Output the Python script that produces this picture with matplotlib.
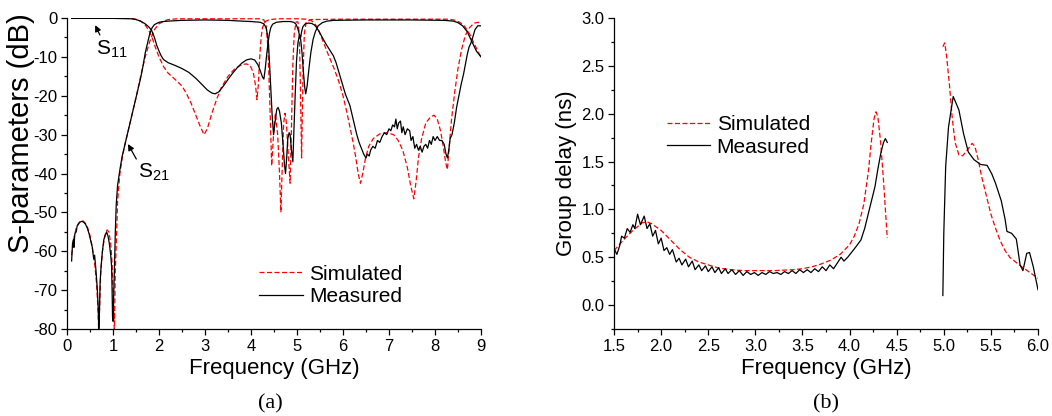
import numpy as np
import matplotlib
matplotlib.use("Agg")
import matplotlib.pyplot as plt
from matplotlib.ticker import MultipleLocator, FormatStrFormatter

plt.rcParams['font.family'] = ['Liberation Sans', 'DejaVu Sans']
plt.rcParams['mathtext.fontset'] = 'custom'
plt.rcParams['mathtext.rm'] = 'Liberation Sans'
plt.rcParams['mathtext.it'] = 'Liberation Sans:italic'
plt.rcParams['axes.unicode_minus'] = False

# ---------------- (a) S-parameters ----------------
# simulated S11 (red dashed)
sim_s11_f = [0.1, 1.4, 1.5, 1.6, 1.7, 1.78, 1.85, 1.92, 2.0, 2.1, 2.2, 2.35, 2.5, 2.6, 2.7, 2.8,
             2.9, 2.98, 3.05, 3.15, 3.25, 3.35, 3.5, 3.65, 3.8, 3.9, 3.98, 4.05, 4.1, 4.13, 4.16,
             4.19, 4.22, 4.25, 4.3, 4.4, 4.6, 5.0, 5.2, 5.3, 5.37, 5.45, 5.5, 5.6, 5.7, 5.79, 5.9,
             6.0, 6.08, 6.15, 6.22, 6.28, 6.33, 6.38, 6.43, 6.49, 6.56, 6.66, 6.8, 6.95, 7.1, 7.2,
             7.3, 7.4, 7.47, 7.54, 7.59, 7.64, 7.71, 7.8, 7.9, 7.98, 8.05, 8.12, 8.18, 8.23, 8.27,
             8.31, 8.36, 8.43, 8.5, 8.58, 8.66, 8.75, 8.85, 9.0]
sim_s11_db = [0, -0.1, -0.3, -0.8, -1.8, -3.2, -5, -7.5, -10, -12.5, -14.2, -15.8, -17.5, -19.5,
              -22, -25, -28, -30, -28.5, -24.5, -21, -18, -15, -13, -12, -11.8, -12.2, -14, -17.5,
              -21, -17, -10, -5, -2.5, -1, -0.4, -0.2, -0.2, -0.3, -0.6, -1.2, -2.5, -4, -7, -10,
              -12.5, -16, -20, -24, -28, -32, -36, -40, -42.5, -40, -36, -33, -31, -29.8, -29.5,
              -30, -31.5, -34, -38.5, -43, -46.5, -42, -36, -31, -27, -25.5, -25, -26, -29, -33,
              -37, -39, -33, -26, -19, -13, -8, -4.5, -2.5, -1.3, -1]

# simulated S21 (red dashed)
sim_s21_f = [0.1, 0.15, 0.2, 0.25, 0.3, 0.35, 0.4, 0.45, 0.5, 0.55, 0.6, 0.64, 0.67, 0.69, 0.71,
             0.73, 0.77, 0.82, 0.87, 0.91, 0.95, 0.98, 1.0, 1.03, 1.05, 1.08, 1.1, 1.15, 1.2, 1.25,
             1.3, 1.4, 1.5, 1.6, 1.7, 1.8, 1.9, 2.0, 2.1, 2.2, 2.4, 4.2, 4.28, 4.33, 4.37, 4.41,
             4.45, 4.49, 4.53, 4.58, 4.62, 4.65, 4.68, 4.71, 4.74, 4.77, 4.81, 4.85, 4.88, 4.91,
             4.94, 4.98, 5.02, 5.05, 5.07, 5.1, 5.13, 5.16, 5.2, 5.3, 6.0, 8.3, 8.45, 8.55, 8.65,
             8.75, 8.85, 8.95, 9.0]
sim_s21_db = [-61, -56.5, -54, -52.8, -52.2, -52.2, -52.8, -54, -56, -59, -63, -68, -74, -81, -74,
              -66, -60, -56, -54.5, -55, -58, -63, -70, -81, -65, -55, -47, -40, -36, -33, -30.5,
              -25.5, -20.5, -15, -10, -6, -3, -1.5, -0.8, -0.4, -0.2, -0.2, -0.5, -2, -8, -22, -38,
              -30, -24.5, -30, -40, -50, -38, -27, -24.5, -27, -35, -42.5, -28, -12, -4, -1, -1,
              -4, -15, -36, -15, -4, -1, -0.4, -0.3, -0.3, -0.6, -1.2, -2.2, -4, -6.5, -9, -10]

# measured S11 (black)
meas_s11_f = [0.1, 1.0, 1.4, 1.5, 1.6, 1.7, 1.78, 1.84, 1.9, 1.95, 2.0, 2.05, 2.1, 2.2, 2.35, 2.5,
              2.65, 2.8, 2.95, 3.05, 3.15, 3.22, 3.3, 3.4, 3.5, 3.6, 3.7, 3.8, 3.9, 4.0, 4.08, 4.15,
              4.2, 4.25, 4.28, 4.31, 4.34, 4.37, 4.4, 4.43, 4.47, 4.55, 4.7, 4.85, 4.93, 4.98, 5.02,
              5.05, 5.08, 5.1, 5.13, 5.18, 5.25, 5.32, 5.38, 5.43, 5.48, 5.55, 5.62, 5.7, 5.79,
              5.85, 5.9, 5.95, 6.0, 6.05, 6.1, 6.15, 6.2, 6.25, 6.3, 6.35, 6.4, 6.45, 6.5, 6.53,
              6.57, 6.6, 6.65, 6.7, 6.75, 6.8, 6.85, 6.9, 6.95, 7.0, 7.04, 7.08, 7.12, 7.15, 7.18,
              7.21, 7.25, 7.28, 7.31, 7.35, 7.4, 7.45, 7.48, 7.52, 7.56, 7.6, 7.64, 7.68, 7.72,
              7.76, 7.8, 7.84, 7.88, 7.92, 7.96, 8.0, 8.05, 8.1, 8.15, 8.2, 8.24, 8.27, 8.3, 8.33,
              8.37, 8.42, 8.47, 8.52, 8.57, 8.62, 8.66, 8.7, 8.74, 8.78, 8.82, 8.87, 8.93, 9.0]
meas_s11_db = [-0.1, -0.1, -0.2, -0.4, -0.8, -1.5, -2.3, -3.2, -5, -7, -8.5, -9.8, -10.7, -11.5,
               -12.2, -13, -14, -15.5, -17.3, -18.5, -19.3, -19.5, -19, -17.5, -15.8, -14.2, -12.8,
               -11.6, -10.8, -10.5, -10.8, -12, -13.5, -15.2, -15.7, -13, -9.5, -6.5, -4, -2.5,
               -1.6, -1.1, -0.9, -0.9, -1.1, -1.6, -2.8, -4.2, -5, -3.5, -2.2, -1.5, -1.3, -1.4,
               -1.8, -2.5, -3.5, -5, -6.5, -8, -9.7, -11.5, -13.5, -15.5, -17.5, -19.5, -21,
               -22.5, -25, -27.5, -30, -32, -33.5, -35, -36, -35, -35.5, -34, -33, -33.5, -31.5,
               -32, -30.5, -29.5, -30, -28.5, -29, -27.5, -28, -26, -28.5, -27, -26.5, -29.5, -28,
               -30, -28.5, -29, -31.5, -30.5, -33.5, -32.5, -34, -33, -34.5, -33, -32.5, -33.5,
               -31.5, -32.5, -30.5, -31.5, -30.5, -31.5, -31.5, -32.5, -35, -36, -34, -31, -30,
               -27, -23, -20, -17, -14.5, -12, -9.5, -7.5, -6.5, -5, -3, -2, -2]

# measured S21 (black)
meas_s21_f = [0.1, 0.12, 0.14, 0.15, 0.17, 0.2, 0.22, 0.25, 0.28, 0.32, 0.36, 0.4, 0.44, 0.48,
              0.52, 0.55, 0.58, 0.6, 0.63, 0.66, 0.68, 0.69, 0.7, 0.72, 0.74, 0.77, 0.8, 0.83,
              0.86, 0.89, 0.92, 0.95, 0.97, 0.98, 0.99, 1.0, 1.03, 1.05, 1.07, 1.1, 1.15, 1.2,
              1.25, 1.3, 1.35, 1.4, 1.45, 1.5, 1.55, 1.6, 1.65, 1.7, 1.75, 1.8, 1.85, 1.9, 2.0,
              2.1, 2.2, 2.5, 3.0, 3.5, 3.8, 4.0, 4.2, 4.28, 4.33, 4.36, 4.38, 4.4, 4.43, 4.46,
              4.49, 4.52, 4.56, 4.59, 4.62, 4.66, 4.7, 4.73, 4.75, 4.77, 4.8, 4.83, 4.85, 4.88,
              4.91, 4.93, 4.96, 4.99, 5.02, 5.05, 5.08, 5.11, 5.14, 5.17, 5.19, 5.22, 5.26, 5.3,
              5.35, 5.4, 5.46, 5.55, 5.65, 5.8, 6.5, 7.5, 8.2, 8.4, 8.5, 8.6, 8.7, 8.8, 8.9, 9.0]
meas_s21_db = [-62.5, -58, -57, -59, -55.5, -55, -53.5, -53, -52.5, -52.3, -52.5, -53, -54, -55.5,
               -57.5, -59, -62, -61, -65, -70, -75, -80, -78, -68, -64, -60, -57, -56, -55, -56,
               -58, -61, -64, -70, -77, -78, -65, -55, -48, -43, -39, -35.5, -33, -30.5, -28,
               -25.5, -23, -20.5, -18, -15.5, -12.5, -9, -6.5, -4, -2.5, -1.7, -1.1, -0.9, -0.8,
               -0.6, -0.5, -0.6, -0.8, -0.9, -1.1, -1.5, -2.5, -4.5, -6.5, -11, -18, -25, -30,
               -27, -23.5, -23, -24, -27, -33, -38, -40, -37, -31, -29.5, -30, -34, -37, -30, -20,
               -11, -6.5, -4.5, -5.5, -9, -14, -18, -19.5, -17.5, -13, -9, -5.5, -3.5, -2, -1.2,
               -0.8, -0.6, -0.5, -0.5, -0.6, -0.8, -1.2, -2, -3.5, -6, -8.5, -10]

# ---------------- (b) group delay ----------------
gd_sim1_f = [1.5, 1.6, 1.7, 1.8, 1.85, 1.9, 2.0, 2.1, 2.2, 2.3, 2.4, 2.5, 2.6, 2.7, 2.8, 2.9, 3.0,
             3.2, 3.4, 3.5, 3.6, 3.7, 3.8, 3.9, 4.0, 4.05, 4.1, 4.15, 4.2, 4.23, 4.26, 4.28, 4.3,
             4.33, 4.36, 4.38, 4.4]
gd_sim1_ns = [0.57, 0.68, 0.78, 0.86, 0.87, 0.85, 0.78, 0.68, 0.58, 0.50, 0.45, 0.42, 0.39, 0.375,
              0.365, 0.36, 0.36, 0.36, 0.37, 0.38, 0.40, 0.43, 0.47, 0.53, 0.63, 0.72, 0.85, 1.05,
              1.40, 1.70, 1.95, 2.02, 1.97, 1.70, 1.30, 1.00, 0.70]
gd_sim2_f = [4.99, 5.01, 5.03, 5.06, 5.09, 5.12, 5.16, 5.2, 5.25, 5.3, 5.33, 5.37, 5.4, 5.45, 5.5,
             5.55, 5.6, 5.65, 5.7, 5.8, 5.9, 6.0]
gd_sim2_ns = [2.70, 2.74, 2.60, 2.30, 1.95, 1.70, 1.57, 1.56, 1.62, 1.69, 1.66, 1.50, 1.35, 1.15,
              0.95, 0.80, 0.67, 0.57, 0.50, 0.42, 0.35, 0.28]

gd_meas1_f = [1.50, 1.53, 1.56, 1.58, 1.61, 1.64, 1.67, 1.70, 1.72, 1.75, 1.78, 1.82, 1.85, 1.88,
              1.91, 1.94, 1.97, 2.00, 2.03, 2.06, 2.09, 2.12, 2.16, 2.19, 2.22, 2.26, 2.29, 2.33,
              2.36, 2.40, 2.43, 2.47, 2.50, 2.54, 2.57, 2.61, 2.64, 2.68, 2.71, 2.75, 2.79, 2.83,
              2.87, 2.91, 2.95, 2.99, 3.03, 3.07, 3.11, 3.15, 3.19, 3.23, 3.27, 3.31, 3.35, 3.39,
              3.43, 3.47, 3.51, 3.55, 3.59, 3.63, 3.67, 3.71, 3.75, 3.79, 3.83, 3.87, 3.91, 3.94,
              3.98, 4.02, 4.06, 4.09, 4.12, 4.16, 4.20, 4.24, 4.27, 4.30, 4.33, 4.36, 4.38, 4.40]
gd_meas1_ns = [0.59, 0.53, 0.62, 0.72, 0.70, 0.80, 0.76, 0.84, 0.80, 0.95, 0.84, 0.93, 0.80, 0.85,
               0.72, 0.78, 0.64, 0.70, 0.57, 0.60, 0.53, 0.58, 0.45, 0.49, 0.42, 0.48, 0.40, 0.46,
               0.37, 0.42, 0.36, 0.41, 0.35, 0.40, 0.34, 0.39, 0.33, 0.38, 0.33, 0.37, 0.32, 0.36,
               0.31, 0.35, 0.32, 0.34, 0.31, 0.34, 0.32, 0.35, 0.33, 0.34, 0.32, 0.35, 0.33, 0.36,
               0.33, 0.37, 0.34, 0.37, 0.34, 0.38, 0.35, 0.40, 0.36, 0.42, 0.38, 0.44, 0.50, 0.46,
               0.50, 0.55, 0.60, 0.64, 0.68, 0.80, 0.96, 1.12, 1.24, 1.42, 1.58, 1.70, 1.74, 1.70]
gd_meas2_f = [4.99, 5.0, 5.02, 5.05, 5.1, 5.16, 5.21, 5.26, 5.32, 5.39, 5.46, 5.51, 5.55, 5.61,
              5.65, 5.67, 5.72, 5.77, 5.81, 5.84, 5.88, 5.91, 5.95, 6.0]
gd_meas2_ns = [0.10, 0.75, 1.45, 1.86, 2.18, 2.04, 1.79, 1.60, 1.52, 1.47, 1.46, 1.37, 1.27, 1.09,
               0.90, 0.77, 0.75, 0.69, 0.42, 0.36, 0.54, 0.55, 0.40, 0.16]

RED = '#ff0000'
DASH = (0, (4, 2))
LW = 0.9

fig = plt.figure(figsize=(10.52, 4.16), dpi=100)
ax1 = fig.add_axes([0.0637, 0.2091, 0.3935, 0.7476])
ax2 = fig.add_axes([0.5837, 0.2091, 0.4030, 0.7476])

for ax in (ax1, ax2):
    for s in ('top', 'right'):
        ax.spines[s].set_visible(False)
    for s in ('left', 'bottom'):
        ax.spines[s].set_linewidth(0.9)
    ax.tick_params(which='major', direction='out', length=4, width=0.9, labelsize=12, pad=3)
    ax.tick_params(which='minor', direction='out', length=2.5, width=0.9)

# (a)
sim_line, = ax1.plot(sim_s11_f, sim_s11_db, color=RED, ls=DASH, lw=LW)
ax1.plot(sim_s21_f, sim_s21_db, color=RED, ls=DASH, lw=LW)
meas_line, = ax1.plot(meas_s11_f, meas_s11_db, color='k', lw=LW)
ax1.plot(meas_s21_f, meas_s21_db, color='k', lw=LW)
ax1.set_xlim(0, 9)
ax1.set_ylim(-80, 0)
ax1.xaxis.set_major_locator(MultipleLocator(1))
ax1.xaxis.set_minor_locator(MultipleLocator(0.5))
ax1.yaxis.set_major_locator(MultipleLocator(10))
ax1.yaxis.set_minor_locator(MultipleLocator(5))
ax1.set_xlabel('Frequency (GHz)', fontsize=16, labelpad=3)
ax1.set_ylabel('S-parameters (dB)', fontsize=21)
ax1.yaxis.set_label_coords(-0.078, 0.63)

ax1.annotate('', xy=(0.587, -1.2), xytext=(0.74, -5.0),
             arrowprops=dict(arrowstyle='-|>', color='k', lw=0.9, mutation_scale=9))
ax1.text(0.64, -9.5, r'S$_{11}$', fontsize=15, ha='left', va='baseline')
ax1.annotate('', xy=(1.297, -31.8), xytext=(1.536, -36.9),
             arrowprops=dict(arrowstyle='-|>', color='k', lw=0.9, mutation_scale=9))
ax1.text(1.55, -41.2, r'S$_{21}$', fontsize=15, ha='left', va='baseline')

ax1.legend([sim_line, meas_line], ['Simulated', 'Measured'], loc='upper left',
           bbox_to_anchor=(0.464, 0.207), frameon=False, fontsize=15, handlelength=2.1,
           handletextpad=0.3, labelspacing=0.17, borderpad=0, borderaxespad=0)

# (b)
s1, = ax2.plot(gd_sim1_f, gd_sim1_ns, color=RED, ls=DASH, lw=LW)
ax2.plot(gd_sim2_f, gd_sim2_ns, color=RED, ls=DASH, lw=LW)
m1, = ax2.plot(gd_meas1_f, gd_meas1_ns, color='k', lw=LW)
ax2.plot(gd_meas2_f, gd_meas2_ns, color='k', lw=LW)
ax2.set_xlim(1.5, 6.0)
ax2.set_ylim(-0.25, 3.0)
ax2.xaxis.set_major_locator(MultipleLocator(0.5))
ax2.xaxis.set_minor_locator(MultipleLocator(0.25))
ax2.yaxis.set_major_locator(MultipleLocator(0.5))
ax2.yaxis.set_minor_locator(MultipleLocator(0.25))
ax2.xaxis.set_major_formatter(FormatStrFormatter('%.1f'))
ax2.yaxis.set_major_formatter(FormatStrFormatter('%.1f'))
ax2.set_xlabel('Frequency (GHz)', fontsize=16, labelpad=3)
ax2.set_ylabel('Group delay (ns)', fontsize=16, labelpad=3)
ax2.legend([s1, m1], ['Simulated', 'Measured'], loc='upper left',
           bbox_to_anchor=(0.124, 0.688), frameon=False, fontsize=15, handlelength=2.1,
           handletextpad=0.3, labelspacing=0.17, borderpad=0, borderaxespad=0)

fig.text(0.257, 0.03, '(a)', ha='center', va='center', fontsize=16, family='Liberation Serif')
fig.text(0.785, 0.03, '(b)', ha='center', va='center', fontsize=16, family='Liberation Serif')

fig.savefig('out.png', dpi=100)
